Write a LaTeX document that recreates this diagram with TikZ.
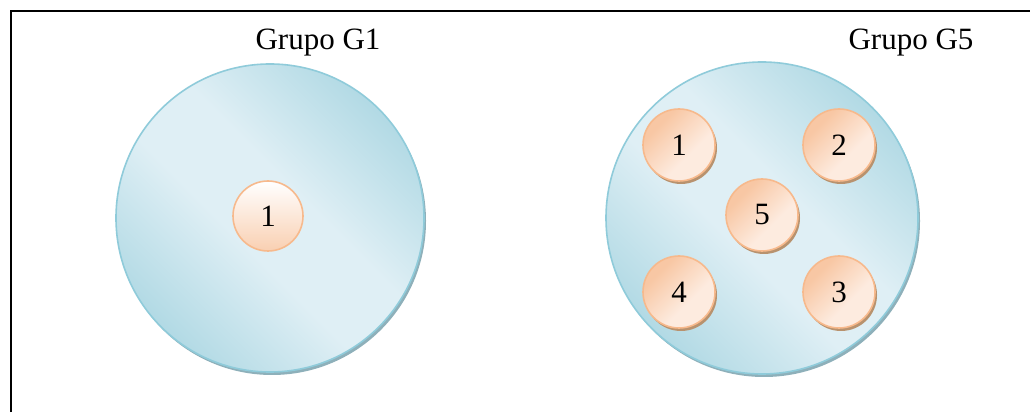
\documentclass[tikz,border=0pt]{standalone}
\usepackage{fontspec}
\setmainfont{Liberation Serif}
\definecolor{bigdark}{HTML}{A6D4E0}
\definecolor{biglight}{HTML}{DFEFF5}
\definecolor{bigedge}{HTML}{8FCBDA}
\definecolor{bigshadow}{HTML}{8EB0BA}
\definecolor{smalldark}{HTML}{F8C7A4}
\definecolor{smalllight}{HTML}{FDEBDF}
\definecolor{smalledge}{HTML}{F7B98C}
\definecolor{smallshadow}{HTML}{B8926E}
% dark edges fading smoothly into a broad light middle
\pgfdeclarehorizontalshading{grpshade}{100bp}{%
  color(0bp)=(bigdark); color(20bp)=(bigdark); color(44bp)=(biglight);
  color(56bp)=(biglight); color(80bp)=(bigdark); color(100bp)=(bigdark)}
\pgfdeclarehorizontalshading{membershade}{100bp}{%
  color(0bp)=(smalldark); color(30bp)=(smalldark); color(60bp)=(smalllight);
  color(100bp)=(smalllight)}
\tikzset{
  grp/.style={circle, minimum size=#1, inner sep=0pt, draw=bigedge, line width=1.6pt,
    shading=grpshade, shading angle=45},
  grpshadow/.style={circle, minimum size=#1, inner sep=0pt, fill=bigshadow},
  member/.style={circle, minimum size=72pt, inner sep=0pt, draw=smalledge, line width=1.6pt,
    shading=membershade, shading angle=-45,
    font=\fontsize{31}{37}\selectfont},
  membershadow/.style={circle, minimum size=72pt, inner sep=0pt, fill=smallshadow},
  single/.style={circle, minimum size=70pt, inner sep=0pt, draw=smalledge, line width=1.6pt,
    top color=white, bottom color=smalldark!85,
    font=\fontsize{31}{37}\selectfont},
  title/.style={font=\fontsize{31}{37}\selectfont, inner sep=0pt}
}
\begin{document}
\begin{tikzpicture}[x=1pt,y=1pt]
  \useasboundingbox (0,0) rectangle (1030,412);
  \fill[white] (0,0) rectangle (1030,412);
  % frame
  \draw[line width=1.6pt] (11,0) -- (11,401) -- (1031,401);

  % group G1
  \node[grpshadow=308pt] (g1s) at (272,191) {};
  \node[grp=308pt] (g1) at (270,194) {};
  \node[single] (a1) at (268,196) {1};
  \node[title] (t1) at (318,369) {Grupo G1};

  % group G5
  \node[grpshadow=312pt] (g5s) at (764,191) {};
  \node[grp=312pt] (g5) at (762,194) {};
  \foreach \n/\x/\y in {b1/679/267, b2/839/267, b5/762/197, b4/679/120, b3/839/120}
    \node[membershadow] (\n s) at (\x+2,\y-3) {};
  \node[member] (b1) at (679,267) {1};
  \node[member] (b2) at (839,267) {2};
  \node[member] (b5) at (762,197) {5};
  \node[member] (b4) at (679,120) {4};
  \node[member] (b3) at (839,120) {3};
  \node[title] (t5) at (911,369) {Grupo G5};
\end{tikzpicture}
\end{document}
